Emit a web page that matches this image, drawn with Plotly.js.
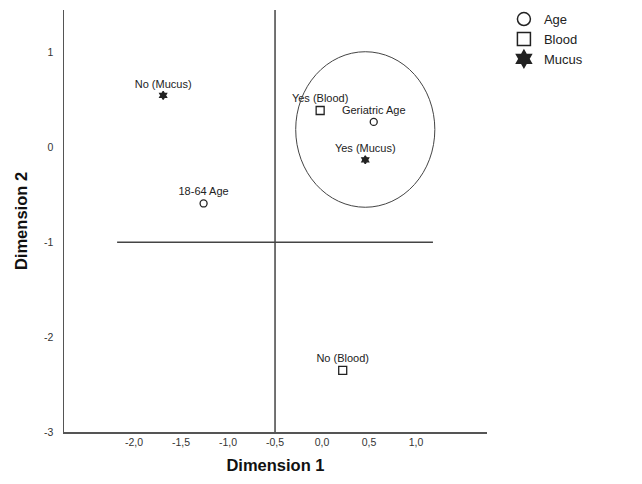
<!DOCTYPE html>
<html><head><meta charset="utf-8">
<script src="https://cdn.plot.ly/plotly-3.0.1.min.js"></script>
<style>body{margin:0;background:#fff}#chart{width:642px;height:484px}</style>
</head><body><div id="chart"></div>
<script>
// Category points (Dimension 1, Dimension 2)
const labels = ["No (Mucus)", "18-64 Age", "Yes (Blood)", "Geriatric Age", "Yes (Mucus)", "No (Blood)"];
const groups = ["Mucus", "Age", "Blood", "Age", "Mucus", "Blood"];
const dim1 = [-1.69, -1.26, -0.02, 0.55, 0.46, 0.22];
const dim2 = [0.55, -0.59, 0.39, 0.27, -0.13, -2.35];
const legendNames = ["Age", "Blood", "Mucus"];
const xTickVals = [-2.0, -1.5, -1.0, -0.5, 0.0, 0.5, 1.0];
const xTickText = ["-2,0", "-1,5", "-1,0", "-0,5", "0,0", "0,5", "1,0"];
const yTickVals = [1, 0, -1, -2, -3];
const yTickText = ["1", "0", "-1", "-2", "-3"];
// Reference lines and ellipse
const refX = -0.5, refY = -1;
const hLineX = [-2.18, 1.18];
const ellipseX = [-0.28, 1.20];
const ellipseY = [-0.63, 1.01];

const sym = {Age: "circle-open", Blood: "square-open", Mucus: "hexagram"};
const symSize = {Age: 7, Blood: 8, Mucus: 6};
const traces = [];
legendNames.forEach(g => {
  const idx = groups.map((v, i) => v === g ? i : -1).filter(i => i >= 0);
  traces.push({
    type: "scatter", mode: "markers+text", showlegend: false,
    x: idx.map(i => dim1[i]), y: idx.map(i => dim2[i]),
    text: idx.map(i => labels[i]), textposition: "top center",
    textfont: {family: "Arial, Liberation Sans, sans-serif", size: 11, color: "#222"},
    marker: {symbol: sym[g], size: symSize[g], color: "#222", line: {color: "#222", width: 1.3}},
    cliponaxis: false, hoverinfo: "skip"
  });
});
legendNames.forEach(g => {
  traces.push({
    type: "scatter", mode: "markers", name: g, x: [null], y: [null],
    marker: {symbol: sym[g], size: 13, color: "#222", line: {color: "#222", width: 1.5}}
  });
});

const layout = {
  width: 642, height: 484,
  margin: {l: 64, r: 155, t: 10, b: 52, autoexpand: false},
  paper_bgcolor: "#fff", plot_bgcolor: "#fff",
  font: {family: "Arial, Liberation Sans, sans-serif", color: "#222"},
  showlegend: true,
  legend: {x: 1.04, y: 1.014, xanchor: "left", yanchor: "top", font: {size: 13, color: "#222"},
           itemwidth: 30, tracegroupgap: 0, bgcolor: "rgba(0,0,0,0)"},
  xaxis: {range: [-2.745, 1.755], tickvals: xTickVals, ticktext: xTickText,
          showgrid: false, zeroline: false, showline: true, linecolor: "#555", linewidth: 1.5,
          ticks: "", tickfont: {size: 10.5, color: "#333"}, ticklen: 0, automargin: false,
          title: {text: "Dimension 1", font: {size: 16.5, color: "#111", weight: "bold"}, standoff: 12}},
  yaxis: {range: [-3, 1.45], tickvals: yTickVals, ticktext: yTickText,
          showgrid: false, zeroline: false, showline: true, linecolor: "#555", linewidth: 1.5,
          ticks: "", tickfont: {size: 10.5, color: "#333"}, automargin: false, ticklabelstandoff: 7,
          title: {text: "Dimension 2", font: {size: 16.5, color: "#111", weight: "bold"}, standoff: 12}},
  shapes: [
    {type: "line", xref: "x", yref: "paper", x0: refX, x1: refX, y0: 0, y1: 1, line: {color: "#444", width: 1.5}},
    {type: "line", xref: "x", yref: "y", x0: hLineX[0], x1: hLineX[1], y0: refY, y1: refY, line: {color: "#444", width: 1.5}},
    {type: "circle", xref: "x", yref: "y", x0: ellipseX[0], x1: ellipseX[1], y0: ellipseY[0], y1: ellipseY[1], line: {color: "#444", width: 1}}
  ]
};
Plotly.newPlot("chart", traces, layout, {displayModeBar: false, staticPlot: true});
</script></body></html>
